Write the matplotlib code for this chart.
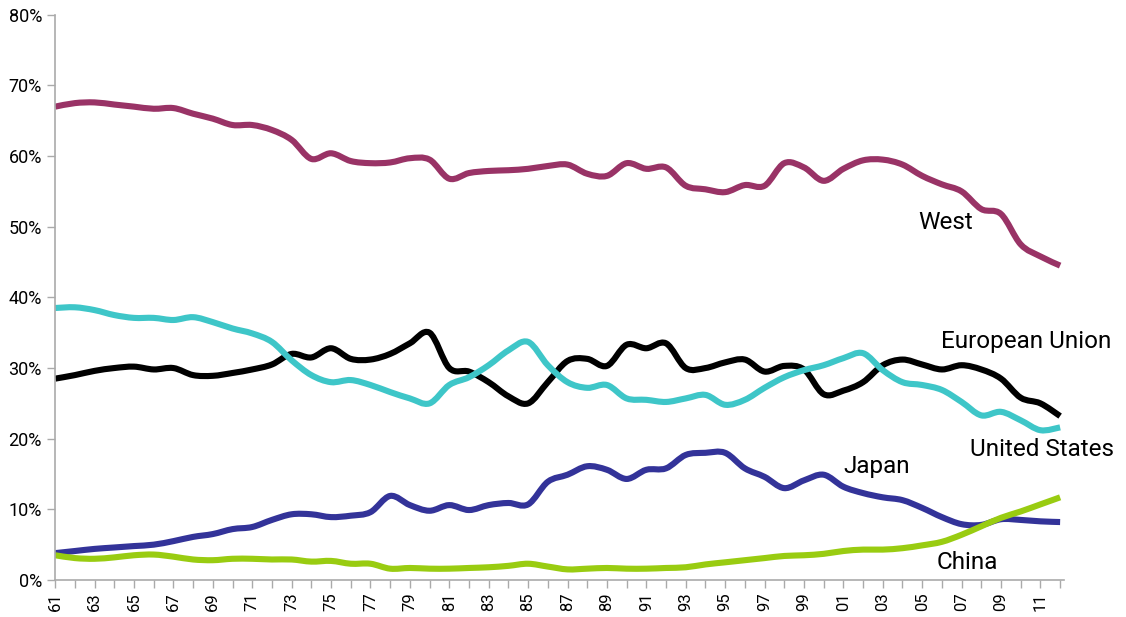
import matplotlib.pyplot as plt
import numpy as np
from matplotlib.path import Path
from matplotlib.patches import PathPatch

# years 1961-2012
years = np.arange(1961, 2013)

west = [67.0, 67.5, 67.6, 67.3, 67.0, 66.7, 66.8, 66.0, 65.3, 64.4,
        64.4, 63.7, 62.3, 59.6, 60.4, 59.3, 59.0, 59.1, 59.7, 59.5,
        56.8, 57.6, 57.9, 58.0, 58.2, 58.6, 58.8, 57.5, 57.2, 59.0,
        58.2, 58.4, 55.8, 55.3, 54.9, 55.9, 55.8, 59.0, 58.4, 56.5,
        58.2, 59.4, 59.5, 58.8, 57.2, 56.0, 55.0, 52.5, 51.8, 47.5,
        45.8, 44.5]

eu = [28.5, 29.0, 29.6, 30.0, 30.2, 29.8, 30.0, 29.0, 28.9, 29.3,
      29.8, 30.5, 32.0, 31.5, 32.8, 31.3, 31.2, 32.0, 33.5, 35.0,
      30.0, 29.5, 28.0, 26.0, 25.0, 28.0, 31.0, 31.3, 30.3, 33.3,
      32.8, 33.5, 30.0, 30.0, 30.8, 31.2, 29.5, 30.3, 29.8, 26.3,
      26.8, 28.0, 30.4, 31.2, 30.5, 29.8, 30.4, 29.8, 28.5, 25.8,
      25.0, 23.2]

us = [38.5, 38.6, 38.2, 37.5, 37.1, 37.1, 36.8, 37.2, 36.5, 35.6,
      34.9, 33.7, 31.1, 29.0, 28.0, 28.3, 27.6, 26.6, 25.7, 25.0,
      27.6, 28.7, 30.4, 32.5, 33.7, 30.4, 28.0, 27.2, 27.6, 25.7,
      25.5, 25.2, 25.7, 26.2, 24.8, 25.5, 27.2, 28.7, 29.7, 30.4,
      31.4, 32.1, 29.7, 28.0, 27.6, 26.9, 25.2, 23.3, 23.8, 22.6,
      21.2, 21.6]

japan = [3.8, 4.1, 4.4, 4.6, 4.8, 5.0, 5.5, 6.1, 6.5, 7.2,
         7.5, 8.5, 9.3, 9.3, 8.9, 9.1, 9.6, 11.9, 10.6, 9.8,
         10.6, 9.9, 10.6, 10.9, 10.7, 13.9, 14.9, 16.1, 15.6, 14.3,
         15.6, 15.8, 17.7, 18.0, 18.0, 15.8, 14.6, 13.0, 14.1, 14.9,
         13.2, 12.3, 11.7, 11.3, 10.2, 8.9, 7.9, 7.8, 8.6, 8.5,
         8.3, 8.2]

china = [3.5, 3.1, 3.0, 3.2, 3.5, 3.6, 3.3, 2.9, 2.8, 3.0,
         3.0, 2.9, 2.9, 2.6, 2.7, 2.3, 2.3, 1.6, 1.7, 1.6,
         1.6, 1.7, 1.8, 2.0, 2.3, 1.9, 1.5, 1.6, 1.7, 1.6,
         1.6, 1.7, 1.8, 2.2, 2.5, 2.8, 3.1, 3.4, 3.5, 3.7,
         4.1, 4.3, 4.3, 4.5, 4.9, 5.4, 6.4, 7.6, 8.8, 9.7,
         10.7, 11.7]

series = [("West", west, "#993366"),
          ("European Union", eu, "#000000"),
          ("United States", us, "#3EC6C8"),
          ("Japan", japan, "#333399"),
          ("China", china, "#99CC11")]

# label positions (year, value)
label_pos = {"West": (2006.2, 50.6), "European Union": (2010.3, 33.8),
             "United States": (2011.1, 18.4), "Japan": (2002.7, 16.1),
             "China": (2007.3, 2.5)}


def smooth_path(x, y):
    # Excel-like smoothed line: catmull-rom segments as cubic beziers
    x = np.asarray(x, float)
    y = np.asarray(y, float)
    pts = np.column_stack([x, y])
    verts = [pts[0]]
    codes = [Path.MOVETO]
    n = len(pts)
    for i in range(n - 1):
        p0 = pts[i - 1] if i > 0 else pts[i]
        p1 = pts[i]
        p2 = pts[i + 1]
        p3 = pts[i + 2] if i + 2 < n else pts[i + 1]
        c1 = p1 + (p2 - p0) / 6.0
        c2 = p2 - (p3 - p1) / 6.0
        verts += [c1, c2, p2]
        codes += [Path.CURVE4] * 3
    return Path(verts, codes)


fig = plt.figure(figsize=(11.26, 6.17), dpi=100)
ax = fig.add_axes([0.049, 0.06, 0.896, 0.916])

for name, vals, col in series:
    patch = PathPatch(smooth_path(years, vals), facecolor="none", edgecolor=col,
                      lw=4.4, capstyle="butt", joinstyle="round")
    ax.add_patch(patch)
    lx, ly = label_pos[name]
    ax.text(lx, ly, name, ha="center", va="center", fontsize=17.5,
            family="Roboto", color="black")

ax.set_xlim(1961, 2012.2)
ax.set_ylim(0, 80)

ax.set_xticks(years[::2])
ax.set_xticklabels(["%02d" % (y % 100) for y in years[::2]], rotation=90,
                   fontsize=12, family="Roboto")
ax.set_xticks(years, minor=True)
ax.set_yticks(np.arange(0, 81, 10))
ax.set_yticklabels(["%d%%" % v for v in range(0, 81, 10)], fontsize=13,
                   family="Roboto")

for s in ["top", "right"]:
    ax.spines[s].set_visible(False)
for s in ["left", "bottom"]:
    ax.spines[s].set_color("#AAAAAA")
    ax.spines[s].set_linewidth(1.2)
ax.tick_params(axis="both", which="both", color="#AAAAAA", length=6, width=1)
ax.tick_params(axis="x", pad=3)

plt.savefig("out.png", dpi=100)
